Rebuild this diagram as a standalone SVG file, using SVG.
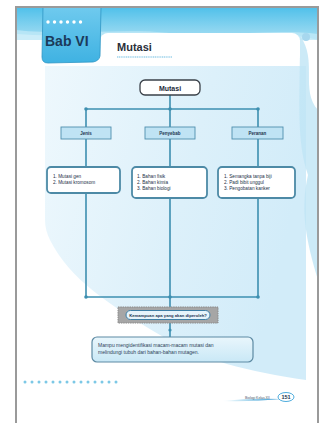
<svg xmlns="http://www.w3.org/2000/svg" width="324" height="423" viewBox="0 0 324 423">
<defs>
<linearGradient id="band" x1="0" y1="0" x2="0" y2="1"><stop offset="0" stop-color="#4fc0ea"/><stop offset="1" stop-color="#a9dff3"/></linearGradient>
<linearGradient id="tab" x1="0" y1="0" x2="0" y2="1"><stop offset="0" stop-color="#6fcaee"/><stop offset="1" stop-color="#3fb2e2"/></linearGradient>
<linearGradient id="bg" x1="0" y1="0" x2="1" y2="0.3"><stop offset="0" stop-color="#eef8fd"/><stop offset="0.6" stop-color="#dcf0fa"/><stop offset="1" stop-color="#d2ecf9"/></linearGradient>
<linearGradient id="goal" x1="0" y1="0" x2="0" y2="1"><stop offset="0" stop-color="#e9f6fc"/><stop offset="1" stop-color="#c9e8f6"/></linearGradient>
<linearGradient id="swoosh" x1="0" y1="0" x2="1" y2="0"><stop offset="0" stop-color="#4fb8e4" stop-opacity="0"/><stop offset="1" stop-color="#2a8fcc"/></linearGradient>
</defs>
<style>
.conn{stroke:#3d8fb0;stroke-width:1.6;fill:none}
.dot{fill:#3d8fb0}
.cat rect{fill:#bfe3f4;stroke:#4f8fae;stroke-width:0.9}
.cat text{font-family:"Liberation Sans",Arial,sans-serif;font-size:4.5px;fill:#1d3550;text-anchor:middle;font-weight:bold}
.list rect{fill:#ffffff;stroke:#4d8aa6;stroke-width:1.8}
.list text{font-family:"Liberation Sans",Arial,sans-serif;font-size:4.7px;fill:#1a2e45}
.pd{fill:#7cc8e6}
</style>
<rect width="324" height="423" fill="#ffffff"/>
<!-- page -->
<rect x="16" y="7" width="302" height="420" fill="#ffffff"/>
<path d="M45 66 H306 V380 C250 372 200 360 160 335 C110 305 70 280 50 240 Q45 230 45 220 Z" fill="url(#bg)"/>
<path d="M16 7 H318 V40 C280 30 250 42 200 36 C150 30 110 40 16 34 Z" fill="url(#band)"/>
<path d="M16 30 C70 36 120 28 170 33 C220 38 270 28 318 34 V40 H16 Z" fill="#bfe8f7" opacity="0.8"/>
<path d="M300 36 C318 60 300 90 318 110 L318 280 C306 240 300 210 308 175 C296 140 300 100 300 36 Z" fill="#bfe5f5" opacity="0.8"/>
<circle cx="306" cy="37" r="4" fill="#a7d7ee"/>
<rect x="100" y="33" width="200" height="30" rx="8" fill="#ffffff"/>
<line x1="117" y1="57" x2="172" y2="57" stroke="#9fd3ec" stroke-width="1.4" stroke-dasharray="1.2 0.6"/>
<text x="117" y="51" font-family="Liberation Sans,Arial,sans-serif" font-size="11" font-weight="bold" fill="#2a2f3a">Mutasi</text>
<!-- Bab tab -->
<g id="bab">
<path d="M43 7 H101 L100 56 Q99 61 93 62 L48 63 Q42 63 42 57 Z" fill="url(#tab)" stroke="#2f95c4" stroke-width="0.8"/>
<g fill="#ffffff"><circle cx="48" cy="22" r="1.7"/><circle cx="54.5" cy="22" r="1.7"/><circle cx="61" cy="22" r="1.7"/><circle cx="67.5" cy="22" r="1.7"/><circle cx="74" cy="22" r="1.7"/><circle cx="80.5" cy="22" r="1.7"/></g>
<text x="45" y="46" font-family="Liberation Sans,Arial,sans-serif" font-size="14" font-weight="bold" fill="#1b3a5a">Bab VI</text>
</g>
<!-- frame -->
<path d="M16 423 V7 H318 V423" fill="none" stroke="#9a9a9a" stroke-width="2"/>
<!-- connectors -->
<g id="connectors">
<line class="conn" x1="170" y1="95" x2="170" y2="109"/>
<line class="conn" x1="86" y1="109" x2="258" y2="109"/>
<line class="conn" x1="86" y1="109" x2="86" y2="167"/>
<line class="conn" x1="170" y1="109" x2="170" y2="167"/>
<line class="conn" x1="258" y1="109" x2="258" y2="167"/>
<line class="conn" x1="86" y1="193" x2="86" y2="297"/>
<line class="conn" x1="170" y1="198" x2="170" y2="307"/>
<line class="conn" x1="258" y1="198" x2="258" y2="297"/>
<line class="conn" x1="86" y1="297" x2="258" y2="297"/>
<line class="conn" x1="170" y1="323" x2="170" y2="337"/>
<circle class="dot" cx="86" cy="109" r="1.8"/><circle class="dot" cx="170" cy="109" r="1.8"/><circle class="dot" cx="258" cy="109" r="1.8"/>
<circle class="dot" cx="86" cy="297" r="1.8"/><circle class="dot" cx="170" cy="297" r="1.8"/><circle class="dot" cx="258" cy="297" r="1.8"/>
<circle class="dot" cx="170" cy="330" r="1.6"/>
</g>
<!-- root -->
<g id="root">
<rect x="140" y="80" width="60" height="15" rx="5" fill="#ffffff" stroke="#3a4048" stroke-width="1.3"/>
<text x="170" y="90.5" font-family="Liberation Sans,Arial,sans-serif" font-size="7" font-weight="bold" fill="#1d2a38" text-anchor="middle">Mutasi</text>
</g>
<g id="jenis" class="cat"><rect x="61" y="127" width="50" height="12"/><text x="86" y="134.7">Jenis</text></g>
<g id="penyebab" class="cat"><rect x="145" y="127" width="50" height="12"/><text x="170" y="134.7">Penyebab</text></g>
<g id="peranan" class="cat"><rect x="232" y="127" width="51" height="12"/><text x="257.5" y="134.7">Peranan</text></g>
<g id="jenis-list" class="list"><rect x="47" y="167" width="73" height="26" rx="4"/>
<text x="53" y="178">1.  Mutasi gen</text><text x="53" y="184">2.  Mutasi kromosom</text></g>
<g id="penyebab-list" class="list"><rect x="132" y="167" width="75" height="31" rx="4"/>
<text x="137" y="178">1.  Bahan fisik</text><text x="137" y="184">2.  Bahan kimia</text><text x="137" y="190">3.  Bahan biologi</text></g>
<g id="peranan-list" class="list"><rect x="218" y="167" width="77" height="31" rx="4"/>
<text x="224" y="178">1.  Semangka tanpa biji</text><text x="224" y="184">2.  Padi bibit unggul</text><text x="224" y="190">3.  Pengobatan kanker</text></g>
<!-- question -->
<g id="question">
<rect x="118" y="307" width="100" height="16" fill="#a6a6a6" stroke="#8a8a8a" stroke-width="1" stroke-dasharray="1.5 0.8"/>
<rect x="126" y="310.5" width="84" height="9" rx="4.5" fill="#e6f4fb" stroke="#3d7fa6" stroke-width="1"/>
<text x="168" y="316.6" font-family="Liberation Sans,Arial,sans-serif" font-size="4.2" font-weight="bold" fill="#1d3550" text-anchor="middle">Kemampuan apa yang akan diperoleh?</text>
</g>
<!-- goal -->
<g id="goal-box">
<rect x="92" y="337" width="161" height="25" rx="5" fill="url(#goal)" stroke="#5d8aa3" stroke-width="1.2"/>
<text font-family="Liberation Sans,Arial,sans-serif" font-size="5" fill="#2d4258"><tspan x="98" y="347">Mampu mengidentifikasi macam-macam mutasi dan</tspan><tspan x="98" y="354">melindungi tubuh dari bahan-bahan mutagen.</tspan></text>
</g>
<!-- dots row -->
<g class="pd">
<circle cx="25" cy="382" r="1.5"/><circle cx="32" cy="382" r="1.5"/><circle cx="39" cy="382" r="1.5"/><circle cx="46" cy="382" r="1.5"/><circle cx="53" cy="382" r="1.5"/><circle cx="60" cy="382" r="1.5"/><circle cx="67" cy="382" r="1.5"/><circle cx="74" cy="382" r="1.5"/><circle cx="81" cy="382" r="1.5"/><circle cx="88" cy="382" r="1.5"/><circle cx="95" cy="382" r="1.5"/><circle cx="102" cy="382" r="1.5"/><circle cx="109" cy="382" r="1.5"/><circle cx="116" cy="382" r="1.5"/>
</g>
<!-- footer -->
<path d="M222 401 Q250 398 281 399 Q250 402 222 401 Z" fill="url(#swoosh)"/>
<text x="245" y="399" font-family="Liberation Sans,Arial,sans-serif" font-size="3.4" fill="#4a5a6a">Biologi Kelas XII</text>
<ellipse cx="286" cy="397" rx="8" ry="4.5" fill="#ffffff" stroke="#3aa3d8" stroke-width="0.9"/>
<text x="286" y="399" font-family="Liberation Sans,Arial,sans-serif" font-size="5.5" font-weight="bold" fill="#1d3550" text-anchor="middle">151</text>
</svg>
